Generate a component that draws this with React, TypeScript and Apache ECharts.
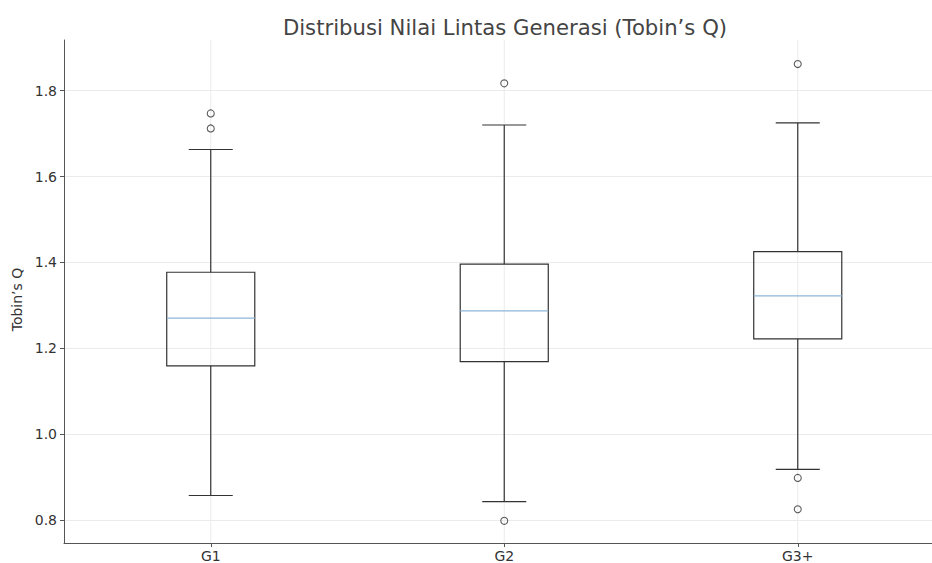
import React, { useEffect, useRef } from "react";
import * as echarts from "echarts";

const categories = ["G1", "G2", "G3+"];
const lowerWhisker = [0.857, 0.843, 0.918];
const q1 = [1.159, 1.169, 1.222];
const median = [1.27, 1.287, 1.322];
const q3 = [1.377, 1.396, 1.425];
const upperWhisker = [1.663, 1.72, 1.725];
const outliersG1 = [1.747, 1.712];
const outliersG2 = [1.817, 0.798];
const outliersG3 = [1.862, 0.898, 0.825];
const yTicks = [0.8, 1.0, 1.2, 1.4, 1.6, 1.8];

const FONT = "DejaVu Sans";

export default function App() {
  const ref = useRef<HTMLDivElement>(null);
  useEffect(() => {
    if (!ref.current) return;
    const chart = echarts.init(ref.current, null, { renderer: "svg" });
    const outlierGroups = [outliersG1, outliersG2, outliersG3];
    const outlierData: number[][] = [];
    outlierGroups.forEach((arr, i) => arr.forEach((v) => outlierData.push([i, v])));
    const boxData = categories.map((_, i) => [
      i,
      lowerWhisker[i],
      q1[i],
      median[i],
      q3[i],
      upperWhisker[i],
    ]);
    const stroke = "#333";
    chart.setOption({
      animation: false,
      backgroundColor: "#fff",
      textStyle: { fontFamily: FONT },
      title: {
        text: "Distribusi Nilai Lintas Generasi (Tobin’s Q)",
        left: 500,
        textAlign: "center",
        top: 12,
        textStyle: { fontFamily: FONT, fontSize: 21.2, fontWeight: "normal", color: "#444" },
      },
      grid: { left: 64, right: 0.5, top: 40, bottom: 20, containLabel: false },
      xAxis: {
        type: "category",
        data: categories,
        boundaryGap: true,
        axisLine: { show: true, lineStyle: { color: "#555", width: 1 } },
        axisTick: { show: true, alignWithLabel: true, length: 4, lineStyle: { color: "#555" } },
        axisLabel: { fontFamily: FONT, fontSize: 14, color: "#333", margin: 6 },
        splitLine: { show: false },
      },
      yAxis: {
        type: "value",
        min: 0.7464,
        max: 1.918,
        name: "Tobin’s Q",
        nameLocation: "middle",
        nameGap: 38,
        nameTextStyle: { fontFamily: FONT, fontSize: 14, color: "#333", padding: [0, 16, 0, 0] },
        axisLine: { show: true, lineStyle: { color: "#555", width: 1 } },
        axisTick: { show: true, length: 4, customValues: yTicks, lineStyle: { color: "#555" } },
        axisLabel: {
          fontFamily: FONT,
          fontSize: 14,
          color: "#333",
          margin: 7,
          customValues: yTicks,
          formatter: (v: number) => v.toFixed(1),
        },
        splitLine: { show: true, lineStyle: { color: "#ebebeb", width: 1 } },
      },
      series: [
        {
          type: "custom",
          data: boxData,
          encode: { x: 0, y: [1, 2, 3, 4, 5] },
          renderItem: (params: any, api: any) => {
            const idx = api.value(0);
            const lo = api.value(1);
            const a = api.value(2);
            const m = api.value(3);
            const b = api.value(4);
            const hi = api.value(5);
            const cx = api.coord([idx, m])[0];
            const yLo = api.coord([idx, lo])[1];
            const yA = api.coord([idx, a])[1];
            const yM = api.coord([idx, m])[1];
            const yB = api.coord([idx, b])[1];
            const yHi = api.coord([idx, hi])[1];
            const cs = params.coordSys;
            const band = api.size([1, 0])[0];
            const half = band * 0.15;
            const capHalf = half / 2;
            const ls = { stroke, lineWidth: 1.2, fill: null };
            return {
              type: "group",
              children: [
                {
                  type: "line",
                  shape: { x1: cx, y1: cs.y, x2: cx, y2: cs.y + cs.height },
                  style: { stroke: "#ebebeb", lineWidth: 1 },
                },
                { type: "line", shape: { x1: cx, y1: yA, x2: cx, y2: yLo }, style: ls },
                { type: "line", shape: { x1: cx, y1: yB, x2: cx, y2: yHi }, style: ls },
                { type: "line", shape: { x1: cx - capHalf, y1: yLo, x2: cx + capHalf, y2: yLo }, style: ls },
                { type: "line", shape: { x1: cx - capHalf, y1: yHi, x2: cx + capHalf, y2: yHi }, style: ls },
                {
                  type: "rect",
                  shape: { x: cx - half, y: yB, width: half * 2, height: yA - yB },
                  style: { stroke, lineWidth: 1.2, fill: "none" },
                },
                {
                  type: "line",
                  shape: { x1: cx - half, y1: yM, x2: cx + half, y2: yM },
                  style: { stroke: "#8db6da", lineWidth: 1.2 },
                },
              ],
            };
          },
          z: 2,
        },
        {
          type: "scatter",
          data: outlierData,
          symbol: "circle",
          symbolSize: 7,
          itemStyle: { color: "rgba(0,0,0,0)", borderColor: "#333", borderWidth: 1.1 },
          z: 3,
        },
      ],
    });
    return () => chart.dispose();
  }, []);
  return (
    <div
      style={{
        position: "fixed",
        left: 0,
        top: 0,
        width: 932,
        height: 563,
        overflow: "hidden",
        background: "#fff",
      }}
    >
      <div ref={ref} style={{ width: 945, height: 563 }} />
    </div>
  );
}
